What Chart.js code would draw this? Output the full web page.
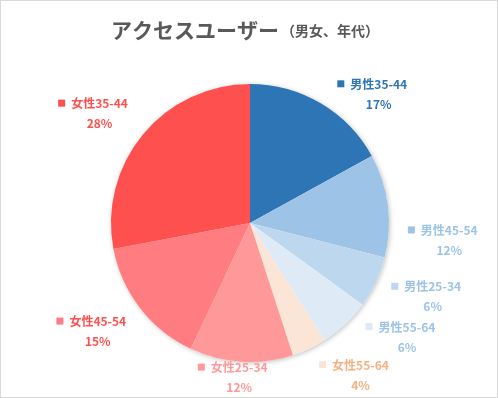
<!DOCTYPE html>
<html>
<head>
<meta charset="utf-8">
<script src="https://cdn.jsdelivr.net/npm/chart.js@4"></script>
<style>
  html, body { margin: 0; padding: 0; background: #fff; }
  #wrap { width: 498px; height: 398px; position: relative; }
</style>
</head>
<body>
<div id="wrap"><canvas id="pieChart" width="498" height="398"></canvas></div>
<script>
// Data (percent of access users)
const categories = ['男性35-44', '男性45-54', '男性25-34', '男性55-64', '女性55-64', '女性25-34', '女性45-54', '女性35-44'];
const shares = [17, 12, 6, 6, 4, 12, 15, 28];
const sliceColors = ['#2E75B6', '#9DC3E6', '#BDD7EE', '#DEEBF7', '#FBE5D6', '#FF9999', '#FF7C80', '#FF5050'];
const labelColors = ['#2E75B6', '#9DC3E6', '#9DC3E6', '#9DC3E6', '#F4B183', '#FF9999', '#FF5050', '#FF5050'];

const FONT = '"Noto Sans CJK JP", "Noto Sans", sans-serif';

// where each label sits: angle from top (deg, clockwise) and distance from centre
const labelPlacement = [[45, 182], [95, 200], [112, 197], [126, 194], [144, 188], [184, 155], [234.5, 187], [306, 186]];

// Title + shadow + outside labels
const pieDecor = {
    id: 'pieDecor',
    beforeDatasetsDraw(chart) {
        const arc = chart.getDatasetMeta(0).data[0];
        const ctx = chart.ctx;
        ctx.save();
        ctx.shadowColor = 'rgba(0,0,0,0.25)';
        ctx.shadowBlur = 5;
        ctx.shadowOffsetX = 1;
        ctx.shadowOffsetY = 1;
        ctx.fillStyle = '#fff';
        ctx.beginPath();
        ctx.arc(arc.x, arc.y, arc.outerRadius, 0, Math.PI * 2);
        ctx.fill();
        ctx.restore();
    },
    afterDraw(chart) {
        const ctx = chart.ctx;
        const meta = chart.getDatasetMeta(0);
        const cx = meta.data[0].x, cy = meta.data[0].y;

        // title
        ctx.save();
        ctx.fillStyle = '#595959';
        ctx.textBaseline = 'middle';
        const main = 'アクセスユーザー';
        const sub = '（男女、年代）';
        ctx.font = 'bold 21px ' + FONT;
        const w1 = ctx.measureText(main).width;
        ctx.font = 'bold 14px ' + FONT;
        const w2 = ctx.measureText(sub).width;
        const x0 = 244 - (w1 + w2) / 2;
        ctx.font = 'bold 21px ' + FONT;
        ctx.textAlign = 'left';
        ctx.fillText(main, x0, 30);
        ctx.font = 'bold 14px ' + FONT;
        ctx.fillText(sub, x0 + w1 + 2, 31);
        ctx.restore();

        // labels
        const total = shares.reduce((a, b) => a + b, 0);
        ctx.save();
        ctx.textBaseline = 'middle';
        categories.forEach((name, i) => {
            const [deg, dist] = labelPlacement[i];
            const a = deg * Math.PI / 180;
            const lx = cx + dist * Math.sin(a);
            const ly = cy - dist * Math.cos(a);
            ctx.fillStyle = labelColors[i];
            ctx.font = 'bold 12px ' + FONT;
            ctx.textAlign = 'center';
            ctx.fillText(name, lx, ly - 10);
            const tw = ctx.measureText(name).width;
            ctx.fillText(Math.round(shares[i] / total * 100) + '%', lx, ly + 10);
            ctx.fillStyle = sliceColors[i];
            ctx.fillRect(lx - tw / 2 - 13, ly - 14, 7, 7);
        });
        ctx.restore();

        // chart area border
        ctx.save();
        ctx.strokeStyle = '#D9D9D9';
        ctx.lineWidth = 1;
        ctx.strokeRect(0.5, 0.5, chart.width - 1, chart.height - 1);
        ctx.restore();
    }
};

new Chart(document.getElementById('pieChart'), {
    type: 'pie',
    data: {
        labels: categories,
        datasets: [{
            data: shares,
            backgroundColor: sliceColors,
            borderWidth: 0
        }]
    },
    options: {
        responsive: false,
        animation: false,
        layout: { padding: { top: 84, bottom: 36, left: 111, right: 109 } },
        plugins: {
            legend: { display: false },
            tooltip: { enabled: false },
            title: { display: false }
        }
    },
    plugins: [pieDecor]
});
</script>
</body>
</html>
